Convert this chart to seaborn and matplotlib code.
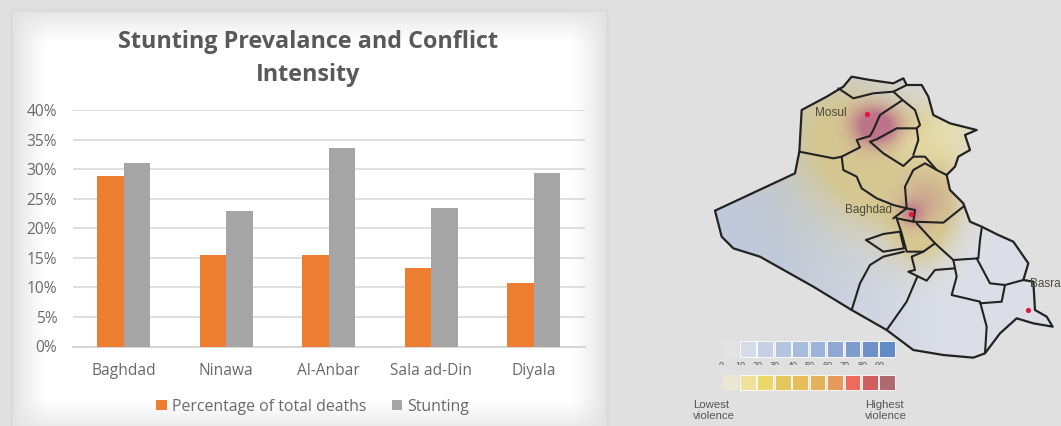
# Stunting vs conflict intensity chart, with the Iraq violence map next to it

import numpy as np
import pandas as pd
import matplotlib.pyplot as plt
from matplotlib.patches import Polygon, Rectangle
from matplotlib.colors import to_rgb
import seaborn as sns

# 0. Data
provinces = ['Baghdad', 'Ninawa', 'Al-Anbar', 'Sala ad-Din', 'Diyala']
deaths = [28.9, 15.5, 15.5, 13.2, 10.7]
stunting = [31.1, 22.9, 33.5, 23.5, 29.3]
y_ticks = [0, 5, 10, 15, 20, 25, 30, 35, 40]

# map outlines
iraq_outline = [(105,452),(345,340),(358,275),(365,150),(440,110),(490,80),(515,50),(570,60),
                (640,70),(670,55),(680,75),(725,75),(745,110),(760,165),(810,190),(890,210),
                (855,225),(870,270),(835,290),(825,320),(800,345),(810,390),(850,430),(870,485),
                (905,500),(955,525),(1000,545),(1045,610),(1030,660),(1060,665),(1065,750),
                (1100,770),(1118,800),(1060,790),(1010,775),(960,820),(915,880),(880,893),
                (790,885),(700,870),(620,810),(515,750),(400,680),(240,590),(160,565),(125,530)]
province_lines = [
    [(475,85),(520,115),(580,100),(640,95),(680,75)],
    [(640,95),(668,120),(600,165),(580,210),(570,228),(530,240),(540,262),(485,290),(460,295),(358,275)],
    [(668,120),(705,150),(720,195),(710,205),(650,205),(590,238),(570,245),(610,280),(670,318),(700,290),(735,290),(770,330),(800,345)],
    [(710,205),(715,240),(700,285)],
    [(485,290),(490,330),(530,350),(545,385),(590,415),(640,435),(680,445),(675,380),(700,330),(735,310),(770,330)],
    [(640,475),(680,445),(705,450),(700,485),(650,475)],
    [(700,485),(790,488),(850,440)],
    [(650,475),(665,520),(680,575),(730,575),(765,550),(710,490)],
    [(558,540),(610,522),(660,515),(672,565),(610,575),(558,540)],
    [(765,550),(820,600),(895,595),(900,540),(905,505)],
    [(730,575),(695,590),(705,630),(685,635),(740,662),(765,630),(825,625),(820,600)],
    [(672,575),(610,590),(570,615),(540,670),(515,750)],
    [(712,650),(680,725),(620,810)],
    [(825,625),(830,650),(815,705),(900,725),(920,800),(915,880)],
    [(890,595),(930,670),(975,675),(965,725),(900,730)],
    [(975,675),(1030,660)],
]
# x, y, radius, strength
yellow_spots = [(470,210,110,0.85),(640,270,90,0.7),(770,230,75,0.55),(590,360,85,0.8),
                (745,420,75,1.0),(720,530,62,0.9),(540,340,170,0.45)]
pale_spots = [(790,230,60,0.8),(680,260,40,0.4)]
red_spots = [(565,195,40,1.0),(612,200,38,0.8),(735,420,50,0.35),(695,460,26,0.7)]
city_dots = [(561,163),(692,462),(1044,750)]
city_labels = [('Mosul',405,160),('Baghdad',494,450),('Basra',1050,672)]
blue_scale = ['#d5dbe8','#c6d0e2','#b4c4df','#a8bcdc','#9db2d8','#8fa8d3','#7f9ccd','#6f90c8','#628ac6']
warm_scale = ['#efe09a','#ecd868','#e5c65a','#e6bd5a','#e3b35c','#e69a5c','#ee6a5c','#cf5f5f','#ad6a70']
scale_labels = ['0-','10','20','30','40','50','60','70','80','90']

df = pd.DataFrame({'Province': provinces * 2,
                   'Value': deaths + stunting,
                   'Series': ['Percentage of total deaths'] * 5 + ['Stunting'] * 5})

sns.set_style('white')
plt.rcParams['font.family'] = ['Open Sans', 'DejaVu Sans']

fig = plt.figure(figsize=(10.61, 4.26), dpi=100, facecolor='#e0e0e0')

# 1. Background card, white with a blurred edge
bg = fig.add_axes([0, 0, 1, 1], zorder=0)
bg.axis('off')
xx, yy = np.meshgrid(np.arange(12, 607), np.arange(11, 426))
def soft(d):
    return np.clip(d / 33.0, 0, 1)
mask = soft(xx - 14) * soft(604 - xx) * soft(yy - 10) * soft(432 - yy)
card = 0.89 + 0.11 * mask ** 0.8
bg.imshow(card, extent=(12, 607, 426, 11), cmap='gray', vmin=0, vmax=1, aspect='auto')
bg.add_patch(Rectangle((11, 10), 596, 420, fill=False, ec='#dadada', lw=1.8))
bg.set_xlim(0, 1061)
bg.set_ylim(426, 0)

# 2. Bars
ax = fig.add_axes([72.5 / 1061, 1 - 346.5 / 426, 512.5 / 1061, 236.5 / 426], zorder=1)
ax.patch.set_alpha(0)
sns.barplot(data=df, x='Province', y='Value', hue='Series', ax=ax, width=0.52, gap=0,
            palette=['#ed7d31', '#a5a5a5'], saturation=1, linewidth=0, zorder=3)
ax.set_ylim(0, 40)
ax.set_xlim(-0.5, 4.5)
ax.set_yticks(y_ticks)
ax.set_yticklabels([f'{t}%' for t in y_ticks])
ax.set_xlabel('')
ax.set_ylabel('')
ax.grid(axis='y', color='#dcdcdc', lw=1.3, zorder=0)
ax.set_axisbelow(True)
sns.despine(ax=ax, left=True, bottom=False)
ax.spines['bottom'].set_color('#d4d4d4')
ax.spines['bottom'].set_linewidth(1.3)
ax.tick_params(axis='y', length=0, pad=11, labelsize=11.2, labelcolor='#6a6a6a')
ax.tick_params(axis='x', length=0, pad=12, labelsize=11.2, labelcolor='#6a6a6a')
handles, labels = ax.get_legend_handles_labels()
ax.legend(handles, labels, loc='upper center', bbox_to_anchor=(0.469, -0.187), ncol=2, frameon=False,
          fontsize=11.4, labelcolor='#6a6a6a', handlelength=0.65, handleheight=0.65,
          handletextpad=0.35, columnspacing=1.6, borderpad=0)
fig.text(308.5 / 1061, 1 - 58.5 / 426, 'Stunting Prevalance and Conflict\nIntensity', ha='center', va='center',
         fontsize=16.8, fontweight='bold', color='#595959', linespacing=1.45, zorder=5)

# 3. Map, in its own axes using traced coordinates
mp = fig.add_axes([680 / 1061, 0, 381 / 1061, 366 / 426], zorder=1)
mp.set_xlim(0, 1143)
mp.set_ylim(1098, 0)
mp.axis('off')
gx, gy = np.meshgrid(np.arange(90, 1130, 3.0), np.arange(40, 900, 3.0))
def field(spots):
    total = np.zeros_like(gx)
    for sx, sy, r, s in spots:
        total += s * np.exp(-((gx - sx) ** 2 + (gy - sy) ** 2) / (2 * r ** 2))
    return np.clip(total, 0, 1)
west = np.clip((800 - gx) / 500, 0, 1)[..., None]
img = (1 - west) * np.array(to_rgb('#dcdfe8')) + west * np.array(to_rgb('#c0cadc'))
wy = field(yellow_spots)[..., None]
img = img * (1 - 0.85 * wy) + 0.85 * wy * np.array(to_rgb('#d6c584'))
wp = field(pale_spots)[..., None]
img = img * (1 - 0.8 * wp) + 0.8 * wp * np.array(to_rgb('#eee6b4'))
wr = field(red_spots)[..., None]
img = img * (1 - 0.8 * wr) + 0.8 * wr * np.array(to_rgb('#b85f88'))
heat = mp.imshow(img, extent=(90, 1130, 900, 40), aspect='auto', interpolation='bilinear')
shape = Polygon(iraq_outline, closed=True, fc='none', ec='#222222', lw=1.6, joinstyle='round')
mp.add_patch(shape)
heat.set_clip_path(shape)
for line in province_lines:
    px, py = zip(*line)
    mp.plot(px, py, color='#222222', lw=1.5, solid_joinstyle='round')
cx, cy = zip(*city_dots)
mp.scatter(cx, cy, s=14, color='#e0173a', zorder=4, lw=0)
for name, lx, ly in city_labels:
    mp.text(lx, ly, name, fontsize=8.5, family='Liberation Sans', color='#4a4a3a', va='center', clip_on=False)
mp.set_xlim(0, 1143)
mp.set_ylim(1098, 0)

# colour keys under the map
step = 52.3
for i, (b, w) in enumerate(zip(blue_scale, warm_scale)):
    mp.add_patch(Rectangle((180 + i * step, 843), 47, 47, fc=b, ec='white', lw=0.6))
    mp.add_patch(Rectangle((180 + i * step, 944), 47, 47, fc=w, ec='white', lw=0.6))
mp.add_patch(Rectangle((128, 843), 47, 47, fc='#e3e3e3', ec='none'))
mp.add_patch(Rectangle((128, 944), 47, 47, fc='#ebe7d2', ec='none'))
label_clip = Rectangle((100, 903), 560, 12, transform=mp.transData)
for i, lab in enumerate(scale_labels):
    t = mp.text(128 + i * step, 917, lab, fontsize=6.5, family='Liberation Sans', color='#555555', ha='center', va='center')
    t.set_clip_on(True)
    t.set_clip_path(label_clip)
mp.text(40, 1052, 'Lowest\nviolence', fontsize=8.2, family='Liberation Sans', color='#555555', va='center', linespacing=1.15)
mp.text(555, 1052, 'Highest\nviolence', fontsize=8.2, family='Liberation Sans', color='#555555', va='center', linespacing=1.15)

fig.savefig('out.png', dpi=100, facecolor=fig.get_facecolor())
